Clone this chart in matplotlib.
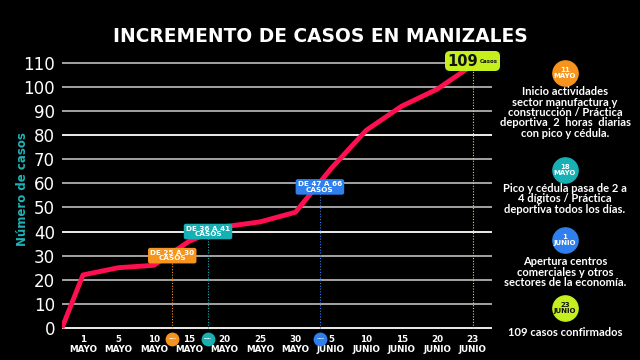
import matplotlib
matplotlib.use("Agg")
import matplotlib.pyplot as plt
import numpy as np
import matplotlib.transforms as mtransforms
from matplotlib.offsetbox import TextArea, HPacker, AnnotationBbox

# ---------------- data ----------------
title = "INCREMENTO DE CASOS EN MANIZALES"
ylabel = "Número de casos"
tick_labels = ["1\nMAYO", "5\nMAYO", "10\nMAYO", "15\nMAYO", "20\nMAYO", "25\nMAYO",
               "30\nMAYO", "5\nJUNIO", "10\nJUNIO", "15\nJUNIO", "20\nJUNIO", "23\nJUNIO"]
cases = [22, 25, 26, 36, 42, 44, 48, 66, 82, 92, 99, 109]
start_cases = 0
y_ticks = list(range(0, 111, 10))

event_pos = [2.52, 3.53, 6.69, 11.0]          # category units
event_day = ["11\nMAYO", "18\nMAYO", "1\nJUNIO", "23\nJUNIO"]
event_colors = ["#f7941d", "#17b0b5", "#2f7fec", "#c5f01e"]
event_text_colors = ["white", "white", "white", "#111111"]
range_labels = ["DE 25 A 30\nCASOS", "DE 36 A 41\nCASOS", "DE 47 A 66\nCASOS"]
range_y = [30, 40, 58.5]
final_number = "109"
final_word = "Casos"
final_y = 110.7
event_desc = [
    "Inicio actividades\nsector manufactura y\nconstrucción / Práctica\ndeportiva  2  horas  diarias\ncon pico y cédula.",
    "Pico y cédula pasa de 2 a\n4 dígitos / Práctica\ndeportiva todos los días.",
    "Apertura centros\ncomerciales y otros\nsectores de la economía.",
    "109 casos confirmados",
]

# ---------------- style ----------------
BG = "black"
LINE = "#ff0f50"
GRID_GRAY = "#b0b0b0"
TEAL = "#1fb3b8"

fig = plt.figure(figsize=(6.4, 3.6), dpi=100, facecolor=BG)
ax = fig.add_axes([62 / 640, 1 - 330.4 / 360, 430 / 640, 270.1 / 360])
ax.set_facecolor(BG)
x_left = -0.593
ax.set_xlim(x_left, 11.55)
ax.set_ylim(-1, 111)
for s in ax.spines.values():
    s.set_visible(False)

for v in y_ticks:
    ax.axhline(v, color="white" if v % 40 == 0 else GRID_GRAY, lw=1.3, zorder=1)

xs = np.r_[x_left, np.arange(len(cases))]
ys = [start_cases] + cases
ax.plot(xs, ys, color=LINE, lw=3.5, solid_joinstyle="round", solid_capstyle="butt", zorder=3)

ax.set_xticks(np.arange(len(tick_labels)))
ax.set_xticklabels(tick_labels, fontsize=6.3, fontweight="bold", color="white", linespacing=1.2)
ax.set_yticks(y_ticks)
ax.set_yticklabels([str(v) for v in y_ticks], fontsize=12, color="white")
ax.tick_params(axis="both", length=0)
ax.tick_params(axis="x", pad=3)
ax.tick_params(axis="y", pad=5)

ax.set_ylabel(ylabel, color=TEAL, fontsize=8.5, fontweight="bold")
ax.yaxis.set_label_coords(-0.076, 0.523)

# vertical dotted guide lines
ax.vlines(event_pos, 0, range_y + [final_y], colors=event_colors,
          linestyles=(0, (1, 1.5)), lw=0.8, zorder=2)

# range boxes
for x, y, lab, c in zip(event_pos, range_y, range_labels, event_colors):
    ax.text(x, y, lab, ha="center", va="center", fontsize=5.2, fontweight="bold",
            color="white", linespacing=0.85, zorder=5,
            bbox=dict(boxstyle="round,pad=0.3,rounding_size=0.3", fc=c, ec="none"))

# final label
ta1 = TextArea(final_number, textprops=dict(fontsize=10.5, fontweight="heavy", color="#111111"))
ta2 = TextArea(final_word, textprops=dict(fontsize=4, fontweight="bold", color="#111111"))
pack = HPacker(children=[ta1, ta2], align="center", pad=0, sep=1)
ab = AnnotationBbox(pack, (event_pos[3], final_y), frameon=True, pad=0.15,
                    bboxprops=dict(boxstyle="round,pad=0.15,rounding_size=0.3", fc=event_colors[3], ec="none"),
                    zorder=6, annotation_clip=False)
ax.add_artist(ab)

# bottom event circles
blend = mtransforms.blended_transform_factory(ax.transData, ax.transAxes)
for x, d, c, tc in zip(event_pos[:3], event_day[:3], event_colors[:3], event_text_colors[:3]):
    ax.scatter([x], [-0.03], s=80, color=c, transform=blend, clip_on=False, zorder=5)
    ax.text(x, -0.03, d, transform=blend, fontsize=1.7, fontweight="bold", color=tc,
            ha="center", va="center", linespacing=0.9, zorder=6, clip_on=False)

# overlay for right panel and title
ov = fig.add_axes([0, 0, 1, 1])
ov.set_xlim(0, 640)
ov.set_ylim(360, 0)
ov.axis("off")
ov.patch.set_alpha(0)

circ_y = [73, 170, 240, 308]
desc_y = [112.5, 199, 272, 333]
for cy, dy, d, c, tc, desc in zip(circ_y, desc_y, event_day, event_colors, event_text_colors, event_desc):
    ov.scatter([565], [cy], s=330, color=c, zorder=3)
    ov.text(565, cy, d, fontsize=5, fontweight="bold", color=tc, ha="center", va="center",
            linespacing=0.9, zorder=4)
    ov.text(565, dy, desc, fontsize=8, fontweight="bold", family="Lato", color="white",
            ha="center", va="center", linespacing=0.92)

fig.text(0.5, 1 - 37 / 360, title, fontsize=13.4, fontweight="bold", color="white",
         ha="center", va="center")

fig.savefig("out.png", dpi=100, facecolor=BG)
